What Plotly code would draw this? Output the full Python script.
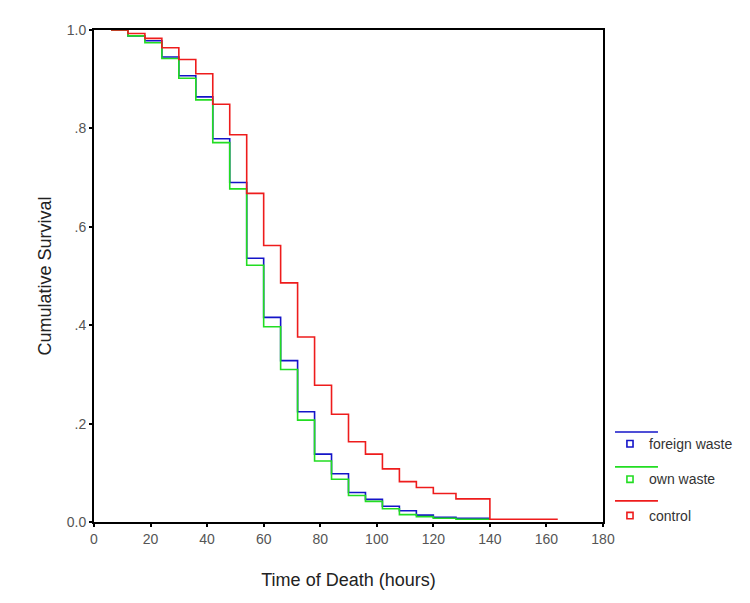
import plotly.graph_objects as go

# Data
times = [6, 12, 18, 24, 30, 36, 42, 48, 54, 60, 66, 72, 78, 84, 90, 96, 102, 108, 114, 120, 128]
foreign_waste = [1.0, 0.988, 0.978, 0.945, 0.907, 0.864, 0.779, 0.690, 0.536, 0.416, 0.328, 0.224,
                 0.138, 0.098, 0.060, 0.046, 0.032, 0.023, 0.014, 0.0095, 0.0075]
foreign_end = 140
own_waste = [1.0, 0.988, 0.974, 0.942, 0.902, 0.858, 0.771, 0.677, 0.522, 0.397, 0.310, 0.207,
             0.124, 0.087, 0.054, 0.042, 0.027, 0.015, 0.011, 0.0075, 0.0055]
own_end = 140
control_times = times + [140]
control = [1.0, 0.993, 0.983, 0.964, 0.940, 0.911, 0.849, 0.787, 0.668, 0.562, 0.486, 0.376,
           0.278, 0.219, 0.163, 0.138, 0.108, 0.082, 0.070, 0.058, 0.047, 0.0055]
control_end = 164

x_ticks = [0, 20, 40, 60, 80, 100, 120, 140, 160, 180]
y_ticks = [0.0, 0.2, 0.4, 0.6, 0.8, 1.0]
y_ticklabels = ["0.0", ".2", ".4", ".6", ".8", "1.0"]

series = [
    ("foreign waste", times, foreign_waste, foreign_end, "#1414C8"),
    ("own waste", times, own_waste, own_end, "#22DD22"),
    ("control", control_times, control, control_end, "#EE1C1C"),
]

fig = go.Figure()
for name, t, v, end, col in series:
    fig.add_trace(go.Scatter(
        x=list(t) + [end], y=list(v) + [v[-1]],
        mode="lines", line=dict(shape="hv", color=col, width=1.6),
        name=name, showlegend=False, hoverinfo="skip"))

# Custom SPSS-style legend (line row + marker/text row)
legend_line_y = [0.183, 0.112, 0.043]
legend_mark_y = [0.159, 0.087, 0.013]
for i, (name, t, v, end, col) in enumerate(series):
    yl = legend_line_y[i]
    ym = legend_mark_y[i]
    fig.add_shape(type="line", xref="paper", yref="paper",
                  x0=1.0236, x1=1.108, y0=yl, y1=yl, line=dict(color=col, width=1.6))
    fig.add_shape(type="rect", xref="paper", yref="paper",
                  x0=1.047, x1=1.059, y0=ym - 0.0065, y1=ym + 0.0065,
                  line=dict(color=col, width=1.6), fillcolor="white")
    fig.add_annotation(xref="paper", yref="paper", x=1.086, y=ym, text=name,
                       showarrow=False, xanchor="left", yanchor="middle",
                       font=dict(family="Liberation Sans, Arial", size=14, color="#333333"))

fig.update_layout(
    width=750, height=603,
    margin=dict(l=86, r=155, t=22, b=89),
    paper_bgcolor="white", plot_bgcolor="white",
    font=dict(family="Liberation Sans, Arial", color="#333333"),
    xaxis=dict(range=[0, 180], tickvals=x_ticks, ticktext=[str(x) for x in x_ticks],
               showgrid=False, zeroline=False, showline=True, linecolor="black",
               linewidth=2, mirror=True, ticks="outside", ticklen=3, tickwidth=2,
               tickcolor="black", tickfont=dict(size=14, color="#555555"),
               title=dict(text="Time of Death (hours)", font=dict(size=18, color="#222222"),
                          standoff=28)),
    yaxis=dict(range=[0, 1], tickvals=y_ticks, ticktext=y_ticklabels,
               showgrid=False, zeroline=False, showline=True, linecolor="black",
               linewidth=2, mirror=True, ticks="outside", ticklen=3, tickwidth=2,
               tickcolor="black", tickfont=dict(size=14, color="#555555"),
               title=dict(text="Cumulative Survival", font=dict(size=18, color="#222222"),
                          standoff=10)),
)

fig.write_html("out.html")
